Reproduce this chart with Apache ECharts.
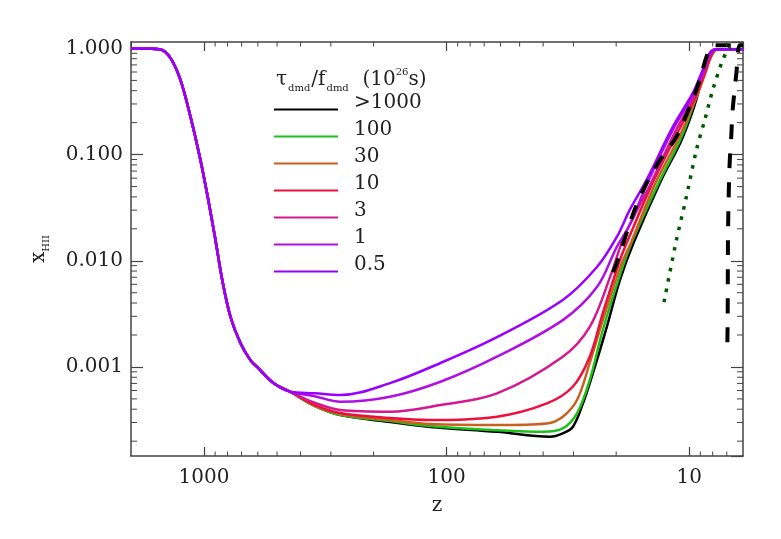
<!DOCTYPE html>
<html>
<head>
<meta charset="utf-8">
<script src="https://cdn.jsdelivr.net/npm/echarts@6/dist/echarts.min.js"></script>
<style>
  html, body { margin: 0; padding: 0; background: #fff; }
  #chart { width: 781px; height: 539px; }
</style>
</head>
<body>
<div id="chart"></div>
<script>
// redshift grid, shared high-z part of every model
const zCommon = [2000, 1950, 1700, 1510, 1374, 1250, 1137, 1034, 955, 897, 841, 778, 708, 644, 604, 516, 441];
const xCommon = [1.0, 1.0, 0.995, 0.978, 0.81, 0.503, 0.227, 0.0887, 0.0349, 0.01567, 0.00658, 0.00297, 0.00168, 0.00116, 0.001, 0.000701, 0.000584];

// low-z tails for each tau/f value
const zTail05 = [350, 274, 171, 106, 62, 33.2, 24.0, 19.9, 17.6, 15.0, 11.7, 9.67, 8.8, 8.24, 7.78, 6.0];
const xTail05 = [0.000566, 0.000544, 0.000705, 0.00109, 0.00191, 0.00427, 0.00873, 0.0167, 0.0300, 0.0575, 0.1815, 0.379, 0.625, 0.903, 0.985, 0.985];

const zTail1 = [350, 274, 171, 106, 62, 33.2, 24.0, 19.9, 17.6, 15.0, 11.7, 9.67, 8.8, 8.24, 7.78, 6.0];
const xTail1 = [0.00053, 0.00047, 0.000524, 0.000726, 0.00125, 0.00276, 0.00565, 0.01346, 0.0217, 0.0516, 0.170, 0.363, 0.598, 0.884, 0.985, 0.985];

const zTail3 = [350, 274, 171, 106, 62, 33.2, 25.7, 21.2, 18.8, 16.8, 14.5, 11.5, 9.58, 8.72, 8.16, 7.71, 6.0];
const xTail3 = [0.00046, 0.000393, 0.000379, 0.000438, 0.000564, 0.00125, 0.00239, 0.00702, 0.01566, 0.0269, 0.0516, 0.1594, 0.348, 0.585, 0.884, 0.985, 0.985];

const zTail10 = [350, 274, 171, 117, 62, 38.6, 30.2, 25.7, 22.7, 19.3, 17.6, 14.3, 11.3, 9.49, 8.64, 8.08, 7.71, 6.0];
const xTail10 = [0.00044, 0.000368, 0.00033, 0.000316, 0.00034, 0.000454, 0.000651, 0.00125, 0.00322, 0.01015, 0.0171, 0.0516, 0.1527, 0.34, 0.573, 0.884, 0.985, 0.985];

const zTail30 = [350, 274, 171, 117, 62, 38.6, 33.2, 29.0, 25.7, 22.7, 19.3, 17.2, 13.9, 11.0, 9.4, 8.64, 8.08, 7.63, 6.0];
const xTail30 = [0.00043, 0.00036, 0.000316, 0.00029, 0.000284, 0.000294, 0.00034, 0.000488, 0.00109, 0.00276, 0.00854, 0.01566, 0.0516, 0.1462, 0.333, 0.561, 0.865, 0.985, 0.985];

const zTail100 = [350, 274, 171, 117, 62, 40.1, 33.2, 29.0, 25.7, 22.7, 19.3, 17.1, 13.2, 10.9, 9.67, 8.8, 8.08, 7.63, 6.0];
const xTail100 = [0.00043, 0.000352, 0.000309, 0.000278, 0.000254, 0.000245, 0.000264, 0.000366, 0.000753, 0.00223, 0.00733, 0.01566, 0.0575, 0.137, 0.28, 0.585, 0.865, 0.985, 0.985];

const zTail1000 = [350, 274, 171, 117, 62, 37.5, 33.2, 30.2, 27.4, 24.95, 21.85, 19.3, 16.9, 13.1, 10.8, 9.58, 8.72, 8.08, 7.63, 6.0];
const xTail1000 = [0.00043, 0.000352, 0.000303, 0.000272, 0.000245, 0.00022, 0.000237, 0.000272, 0.000454, 0.000871, 0.00239, 0.00658, 0.015, 0.0563, 0.134, 0.274, 0.573, 0.865, 0.985, 0.985];

// reference reionization histories (black dashed, green dotted)
const zDashA = [20.6, 19.9, 17.0, 15.0, 13.2, 11.3, 9.95, 9.05, 8.49, 8.1, 7.9, 6.0];
const xDashA = [0.0078, 0.00945, 0.02795, 0.0535, 0.0887, 0.147, 0.282, 0.503, 0.834, 1.035, 1.07, 1.07];
const zDashB = [6.96, 6.94, 6.92, 6.88, 6.81, 6.71, 6.62, 6.39, 6.2, 6.0];
const xDashB = [0.00171, 0.00295, 0.01567, 0.0373, 0.0832, 0.146, 0.262, 0.585, 1.07, 1.07];
const zDot = [12.7, 11.29, 10.34, 9.34, 8.63, 8.0, 7.28, 6.94, 6.74];
const xDot = [0.00408, 0.01567, 0.0373, 0.1103, 0.211, 0.405, 0.776, 0.964, 1.03];

// minor tick positions
const zMinor = [7, 8, 9, 20, 30, 40, 50, 60, 70, 80, 90, 200, 300, 400, 500, 600, 700, 800, 900];
const yMinor = [0.0002, 0.0003, 0.0004, 0.0005, 0.0006, 0.0007, 0.0008, 0.0009,
  0.002, 0.003, 0.004, 0.005, 0.006, 0.007, 0.008, 0.009,
  0.02, 0.03, 0.04, 0.05, 0.06, 0.07, 0.08, 0.09,
  0.2, 0.3, 0.4, 0.5, 0.6, 0.7, 0.8, 0.9];

const names = ['>1000', '100', '30', '10', '3', '1', '0.5'];
const colors = ['#000000', '#1fc01c', '#c8601e', '#ee0f3c', '#d4188f', '#b010e0', '#9a00ff'];
const tails = [
  [zTail1000, xTail1000], [zTail100, xTail100], [zTail30, xTail30], [zTail10, xTail10],
  [zTail3, xTail3], [zTail1, xTail1], [zTail05, xTail05]
];

const Z_MIN = 6, Z_MAX = 2000, Y_MIN = 1.45e-4, Y_MAX = 1.15;
const FONT = 'DejaVu Serif';
const AXIS = '#444';

const pairs = (zs, xs) => zs.map((z, i) => [z, xs[i]]);

const curveSeries = names.map((name, i) => ({
  name,
  type: 'line',
  symbol: 'none',
  smooth: 0.35,
  lineStyle: { color: colors[i], width: 2.5 },
  itemStyle: { color: colors[i] },
  data: pairs(zCommon, xCommon).concat(pairs(tails[i][0], tails[i][1])),
  z: 2 + i
}));

const extraSeries = [
  { data: pairs(zDashA, xDashA), lineStyle: { color: '#000', width: 4, type: [15, 13] } },
  { data: pairs(zDashB, xDashB), lineStyle: { color: '#000', width: 4, type: [15, 14] } },
  { data: pairs(zDot, xDot), lineStyle: { color: '#005a00', width: 3.5, type: [3.5, 7] } }
].map((s) => Object.assign({ type: 'line', symbol: 'none', smooth: 0.3, z: 10, silent: true }, s));

const xAxisBase = {
  type: 'log',
  logBase: 10,
  min: Z_MIN,
  max: Z_MAX,
  inverse: true,
  axisLine: { onZero: false, lineStyle: { color: AXIS, width: 1.5 } },
  axisTick: { inside: true, length: 9, lineStyle: { color: AXIS, width: 1.2 } },
  splitLine: { show: false }
};
const yAxisBase = {
  type: 'log',
  logBase: 10,
  min: Y_MIN,
  max: Y_MAX,
  axisLine: { onZero: false, lineStyle: { color: AXIS, width: 1.5 } },
  axisTick: { inside: true, length: 12, lineStyle: { color: AXIS, width: 1.2 } },
  splitLine: { show: false }
};

const chart = echarts.init(document.getElementById('chart'));
chart.setOption({
  animation: false,
  backgroundColor: '#fff',
  grid: { left: 131, right: 38, top: 42, bottom: 83 },
  title: {
    left: 271,
    top: 62,
    text: '{a|τ}{s|dmd}{a|/f}{s|dmd}{a|  (10}{p|26}{a|s)}',
    textStyle: {
      fontWeight: 'normal',
      rich: {
        a: { fontFamily: FONT, fontSize: 20, fontWeight: 'normal', color: '#222', lineHeight: 26 },
        s: { fontFamily: FONT, fontSize: 10, fontWeight: 'normal', color: '#222', verticalAlign: 'bottom', lineHeight: 26, padding: [0, 1, 0, 1] },
        p: { fontFamily: FONT, fontSize: 10, fontWeight: 'normal', color: '#222', verticalAlign: 'top', lineHeight: 26 }
      }
    }
  },
  legend: {
    data: names,
    orient: 'vertical',
    left: 273,
    top: 93,
    padding: 0,
    itemWidth: 64,
    itemHeight: 14,
    itemGap: -6,
    itemStyle: { opacity: 0 },
    formatter: (n) => n + '\n',
    textStyle: { fontFamily: FONT, fontSize: 20, color: '#222', lineHeight: 13, padding: [0, 0, 0, 11] }
  },
  xAxis: [
    Object.assign({}, xAxisBase, {
      position: 'bottom',
      name: 'z',
      nameLocation: 'middle',
      nameGap: 40,
      nameTextStyle: { fontFamily: FONT, fontSize: 20, color: '#222' },
      axisLabel: {
        margin: 12,
        fontFamily: FONT,
        fontSize: 20,
        color: '#222',
        showMinLabel: false,
        showMaxLabel: false,
        formatter: (v) => String(Math.round(v))
      }
    }),
    Object.assign({}, xAxisBase, { position: 'top', axisLabel: { show: false } })
  ],
  yAxis: [
    Object.assign({}, yAxisBase, {
      position: 'left',
      name: '{a|x}{s|HII}',
      nameLocation: 'middle',
      nameGap: 80,
      nameRotate: 90,
      nameTextStyle: {
        rich: {
          a: { fontFamily: FONT, fontSize: 20, color: '#222', lineHeight: 24 },
          s: { fontFamily: FONT, fontSize: 10, color: '#222', verticalAlign: 'bottom', lineHeight: 24 }
        }
      },
      axisLabel: {
        margin: 8,
        fontFamily: FONT,
        fontSize: 20,
        color: '#222',
        showMinLabel: false,
        showMaxLabel: false,
        formatter: (v) => v.toFixed(3)
      }
    }),
    Object.assign({}, yAxisBase, { position: 'right', axisLabel: { show: false } })
  ],
  series: curveSeries.concat(extraSeries)
});

// minor ticks on all four sides, placed with the chart's own axis scales
const toPx = (v) => chart.convertToPixel({ gridIndex: 0 }, v);
const tickLine = (p, dx, dy) => ({
  type: 'line',
  silent: true,
  z: 100,
  shape: { x1: p[0], y1: p[1], x2: p[0] + dx, y2: p[1] + dy },
  style: { stroke: AXIS, lineWidth: 1 }
});
const tickElements = [].concat(
  zMinor.map((v) => tickLine(toPx([v, Y_MIN]), 0, -4.5)),
  zMinor.map((v) => tickLine(toPx([v, Y_MAX]), 0, 4.5)),
  yMinor.map((v) => tickLine(toPx([Z_MAX, v]), 6, 0)),
  yMinor.map((v) => tickLine(toPx([Z_MIN, v]), -6, 0))
);
chart.setOption({ graphic: { elements: tickElements } });
</script>
</body>
</html>
